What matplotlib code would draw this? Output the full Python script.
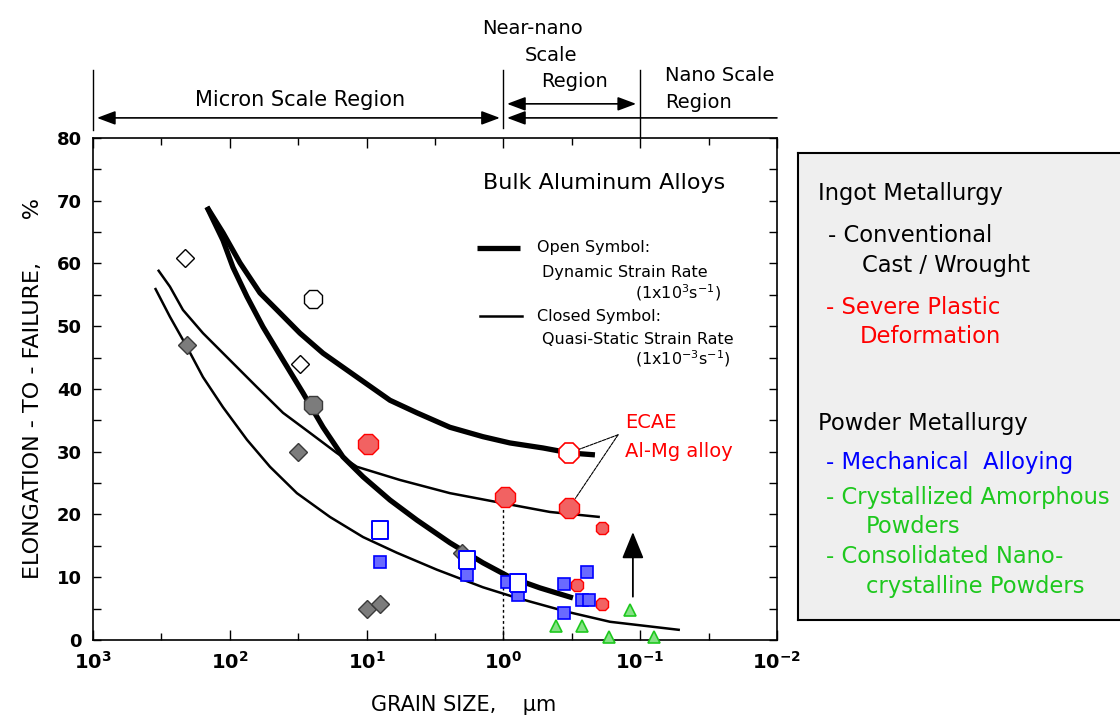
import matplotlib.pyplot as plt
from matplotlib.ticker import FixedLocator, NullFormatter, MultipleLocator

# ---- data: grain size (um) / elongation-to-failure (%) ----
# trend curves (thick = dynamic, thin = quasi-static)
dyn_upper_d = [146.8, 112.1, 84.2, 60.1, 45.2, 30.7, 20.8, 11.76, 6.74, 4.28, 2.46, 1.41, 0.895, 0.513, 0.326, 0.214]
dyn_upper_e = [69.0, 64.9, 60.1, 55.3, 52.6, 48.9, 45.7, 41.9, 38.2, 36.2, 33.9, 32.4, 31.4, 30.6, 29.8, 29.5]
dyn_lower_d = [146.8, 112.1, 94.8, 74.8, 57.2, 40.8, 29.2, 20.8, 14.9, 10.6, 6.74, 4.28, 2.46, 1.41, 0.895, 0.54, 0.31]
dyn_lower_e = [69.0, 63.7, 59.4, 54.7, 49.9, 44.6, 39.4, 33.9, 29.2, 26.0, 22.3, 19.1, 15.5, 12.3, 10.0, 8.3, 6.7]
qs_upper_d = [335, 273.6, 219.9, 157, 99.7, 63.3, 40.8, 25.9, 16.5, 11.76, 5.70, 2.46, 1.01, 0.456, 0.197]
qs_upper_e = [59.0, 56.3, 52.6, 48.9, 44.6, 40.3, 36.2, 33.0, 29.8, 27.6, 25.5, 23.4, 21.8, 20.4, 19.6]
qs_lower_d = [352, 273.6, 205.6, 157, 112.1, 74.8, 50.8, 32.3, 18.5, 10.6, 6.0, 3.06, 1.41, 0.795, 0.343, 0.166, 0.0512]
qs_lower_e = [56.1, 51.5, 46.7, 41.9, 37.1, 31.9, 27.6, 23.4, 19.6, 16.4, 13.9, 11.2, 8.4, 6.7, 4.5, 2.9, 1.6]

# ingot metallurgy, conventional cast / wrought
conv_open_dia_d = [212, 30.7]
conv_open_dia_e = [60.9, 44.0]
conv_open_circ_d = [24.7]
conv_open_circ_e = [54.3]
conv_dia_d = [206, 31.7, 9.9, 8.0, 2.0]
conv_dia_e = [47.0, 30.0, 5.0, 5.7, 13.9]
conv_circ_d = [24.7]
conv_circ_e = [37.5]

# severe plastic deformation
spd_open_d = [0.33]
spd_open_e = [29.8]
spd_big_d = [9.8, 0.97, 0.33]
spd_big_e = [31.3, 22.8, 21.1]
spd_small_d = [0.19, 0.29, 0.19]
spd_small_e = [17.8, 8.8, 5.7]

# mechanical alloying
ma_open_d = [8.0, 1.85, 0.78]
ma_open_e = [17.5, 12.7, 9.1]
ma_d = [8.0, 1.85, 0.94, 0.78, 0.36, 0.245, 0.265, 0.235, 0.36]
ma_e = [12.4, 10.4, 9.2, 7.2, 8.9, 10.8, 6.4, 6.4, 4.3]

# crystallized amorphous / consolidated nanocrystalline powders
nano_d = [0.41, 0.266, 0.169, 0.119, 0.079]
nano_e = [2.2, 2.2, 0.5, 4.8, 0.5]

# upward arrow (lower bound)
arrow_d = 0.113
arrow_e = (6.9, 17.2)

region_edges = [1000, 1.0, 0.1]
xticks = [1000, 100, 10, 1, 0.1, 0.01]
xtick_labels = [r'$\mathbf{10^{3}}$', r'$\mathbf{10^{2}}$', r'$\mathbf{10^{1}}$',
                r'$\mathbf{10^{0}}$', r'$\mathbf{10^{-1}}$', r'$\mathbf{10^{-2}}$']

RED = '#ff0000'
BLUE = '#0000ff'
GREEN = '#1ec81e'
RECT = [(-0.42, -0.5), (0.42, -0.5), (0.42, 0.5), (-0.42, 0.5), (-0.42, -0.5)]

fig = plt.figure(figsize=(11.2, 7.19), dpi=100)
ax = fig.add_axes([0.0830, 0.1099, 0.6107, 0.6982])

# curves
for d, e, w in [(dyn_upper_d, dyn_upper_e, 3.8), (dyn_lower_d, dyn_lower_e, 3.8),
                (qs_upper_d, qs_upper_e, 1.8), (qs_lower_d, qs_lower_e, 1.8)]:
    ax.plot(d, e, color='black', lw=w, solid_capstyle='butt', solid_joinstyle='round', zorder=2)

# dotted line at 1 um
ax.vlines(1.0, 0, spd_big_e[1], colors='black', linestyles=(0, (2, 2)), lw=1, zorder=1)

# markers
ax.plot(conv_dia_d, conv_dia_e, 'D', ms=9.5, mfc='#7c7c7c', mec='#3a3a3a', mew=1, ls='none', zorder=3)
ax.plot(conv_circ_d, conv_circ_e, '8', ms=14, mfc='#7c7c7c', mec='#3a3a3a', mew=1, ls='none', zorder=3)
ax.plot(conv_open_dia_d, conv_open_dia_e, 'D', ms=9.5, mfc='white', mec='black', mew=1, ls='none', zorder=3)
ax.plot(conv_open_circ_d, conv_open_circ_e, '8', ms=14.5, mfc='white', mec='black', mew=1, ls='none', zorder=3)

ax.plot(spd_big_d, spd_big_e, '8', ms=15, mfc='#f26262', mec=RED, mew=1, ls='none', zorder=3)
ax.plot(spd_small_d, spd_small_e, '8', ms=9.5, mfc='#f26262', mec=RED, mew=1, ls='none', zorder=3)
ax.plot(spd_open_d, spd_open_e, '8', ms=15, mfc='white', mec=RED, mew=1.2, ls='none', zorder=3)

ax.plot(ma_d, ma_e, 's', ms=9.2, mfc='#6a6aff', mec=BLUE, mew=1.2, ls='none', zorder=3)
ax.plot(ma_open_d, ma_open_e, marker=RECT, ms=13.5, mfc='white', mec=BLUE, mew=1.4, ls='none', zorder=4)

ax.plot(nano_d, nano_e, '^', ms=8.7, mfc='#86e086', mec=GREEN, mew=1.2, ls='none', zorder=3, clip_on=False)

ax.annotate('', xy=(arrow_d, arrow_e[1]), xytext=(arrow_d, arrow_e[0]),
            arrowprops=dict(arrowstyle='-|>,head_length=1.1,head_width=0.45', color='black',
                            lw=1.3, mutation_scale=15, shrinkA=0, shrinkB=0))

# ECAE label
ax.text(0.128, 34.6, 'ECAE', color=RED, fontsize=14, ha='left', va='center')
ax.text(0.128, 30.0, 'Al-Mg alloy', color=RED, fontsize=14, ha='left', va='center')
for d, e in [(spd_open_d[0], spd_open_e[0]), (spd_big_d[2], spd_big_e[2])]:
    ax.annotate('', xy=(d, e), xytext=(0.145, 32.7),
                arrowprops=dict(arrowstyle='-', lw=0.8, ls=(0, (3, 1)), color='black',
                                shrinkA=0, shrinkB=8))

# inner legend
ax.text(0.747, 0.910, 'Bulk Aluminum Alloys', transform=ax.transAxes, fontsize=16, ha='center', va='center')
ax.plot([0.561, 0.624], [0.781, 0.781], color='black', lw=3.8, transform=ax.transAxes, solid_capstyle='butt')
ax.plot([0.566, 0.627], [0.645, 0.645], color='black', lw=1.8, transform=ax.transAxes)
leg_items = [
    (0.649, 0.781, 'Open Symbol:'),
    (0.656, 0.733, 'Dynamic Strain Rate'),
    (0.792, 0.692, r'(1x10$^{3}$s$^{-1}$)'),
    (0.649, 0.645, 'Closed Symbol:'),
    (0.656, 0.598, 'Quasi-Static Strain Rate'),
    (0.792, 0.560, r'(1x10$^{-3}$s$^{-1}$)'),
]
for x, y, s in leg_items:
    ax.text(x, y, s, transform=ax.transAxes, fontsize=11.5, ha='left', va='center')

# axes formatting
ax.set_xscale('log')
ax.set_xlim(1000, 0.01)
ax.set_ylim(0, 80)
ax.set_xticks(xticks)
ax.set_xticklabels(xtick_labels, fontsize=14)
ax.xaxis.set_minor_locator(FixedLocator([316, 31.6, 3.16, 0.316, 0.0316]))
ax.xaxis.set_minor_formatter(NullFormatter())
ax.yaxis.set_major_locator(MultipleLocator(10))
ax.yaxis.set_minor_locator(MultipleLocator(5))
for lab in ax.get_yticklabels():
    lab.set_fontweight('bold')
    lab.set_fontsize(13)
ax.tick_params(which='both', direction='in', top=True, right=True, width=1)
ax.tick_params(axis='x', which='major', length=7, pad=8)
ax.tick_params(axis='x', which='minor', length=5)
ax.tick_params(axis='y', which='both', length=6, pad=8)
for sp in ax.spines.values():
    sp.set_linewidth(1.2)

ax.set_ylabel('ELONGATION - TO - FAILURE,      %', fontsize=16, labelpad=10)
ax.set_xlabel('GRAIN SIZE,    µm', fontsize=15)
ax.xaxis.set_label_coords(0.542, -0.110)

# region bar above the plot
trans = ax.get_xaxis_transform()
for x, y0 in zip(region_edges, [1.016, 1.020, 1.002]):
    ax.plot([x, x], [y0, 1.135], color='black', lw=1, transform=trans, clip_on=False)
arr2 = dict(arrowstyle='<|-|>,head_length=0.8,head_width=0.3', color='black', lw=1.2,
            mutation_scale=14, shrinkA=0, shrinkB=0)
ax.annotate('', xy=(1.06, 1.040), xytext=(935, 1.040), xycoords=trans, textcoords=trans,
            arrowprops=arr2, annotation_clip=False)
ax.annotate('', xy=(0.107, 1.068), xytext=(0.94, 1.068), xycoords=trans, textcoords=trans,
            arrowprops=arr2, annotation_clip=False)
ax.annotate('', xy=(0.94, 1.040), xytext=(0.01, 1.040), xycoords=trans, textcoords=trans,
            arrowprops=dict(arrowstyle='-|>,head_length=0.8,head_width=0.3', color='black', lw=1.2,
                            mutation_scale=14, shrinkA=0, shrinkB=0), annotation_clip=False)
ax.text(30.7, 1.076, 'Micron Scale Region', transform=trans, fontsize=15, ha='center', va='center')
ax.text(0.61, 1.219, 'Near-nano', transform=trans, fontsize=14, ha='center', va='center')
ax.text(0.45, 1.165, 'Scale', transform=trans, fontsize=14, ha='center', va='center')
ax.text(0.30, 1.112, 'Region', transform=trans, fontsize=14, ha='center', va='center')
ax.text(0.066, 1.125, 'Nano Scale', transform=trans, fontsize=14, ha='left', va='center')
ax.text(0.066, 1.070, 'Region', transform=trans, fontsize=14, ha='left', va='center')

# right-hand key panel
pan = fig.add_axes([0.7125, 0.1377, 0.2964, 0.6495])
pan.set_facecolor('#efefef')
pan.set_xticks([])
pan.set_yticks([])
for sp in pan.spines.values():
    sp.set_linewidth(1.5)
panel_lines = [
    (0.060, 0.914, 'Ingot Metallurgy', 'black'),
    (0.090, 0.824, '- Conventional', 'black'),
    (0.193, 0.760, 'Cast / Wrought', 'black'),
    (0.084, 0.670, '- Severe Plastic', RED),
    (0.187, 0.608, 'Deformation', RED),
    (0.060, 0.420, 'Powder Metallurgy', 'black'),
    (0.084, 0.338, '- Mechanical  Alloying', BLUE),
    (0.084, 0.263, '- Crystallized Amorphous', GREEN),
    (0.205, 0.201, 'Powders', GREEN),
    (0.084, 0.135, '- Consolidated Nano-', GREEN),
    (0.205, 0.071, 'crystalline Powders', GREEN),
]
for x, y, s, c in panel_lines:
    pan.text(x, y, s, color=c, fontsize=16.3, ha='left', va='center', transform=pan.transAxes)

fig.savefig('out.png', dpi=100)
